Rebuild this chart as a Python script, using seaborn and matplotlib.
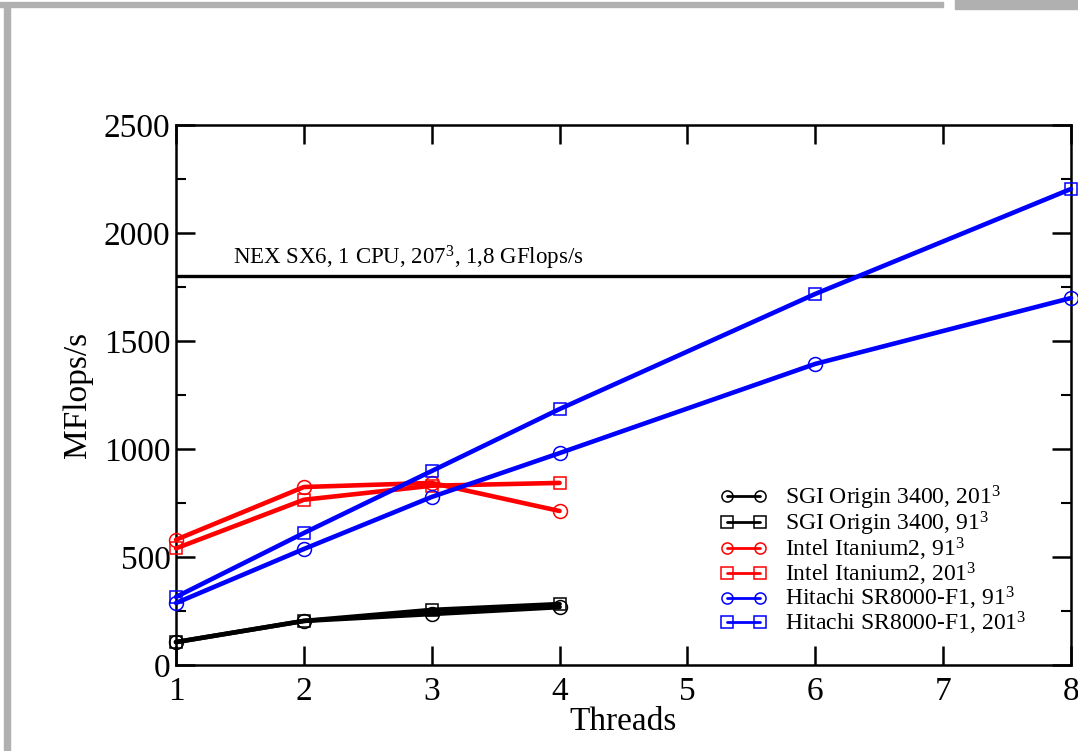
import numpy as np
import pandas as pd
import matplotlib
matplotlib.use("Agg")
import matplotlib.pyplot as plt
import seaborn as sns
from matplotlib.patches import Rectangle
from matplotlib.ticker import MultipleLocator

# ---------------- data ----------------
threads_short = [1, 2, 3, 4]
threads_long = [1, 2, 3, 4, 6, 8]

sgi_201 = [106, 204, 236, 268]
sgi_91 = [106, 204, 255, 282]
intel_91 = [580, 824, 843, 713]
intel_201 = [540, 765, 830, 843]
hitachi_91 = [287, 537, 778, 981, 1394, 1699]
hitachi_201 = [315, 611, 898, 1185, 1718, 2204]

nec_ref = 1800
nec_label = r"NEX SX6, 1 CPU, 207$^{3}$, 1,8 GFlops/s"

labels = [
    r"SGI Origin 3400, 201$^{3}$",
    r"SGI Origin 3400, 91$^{3}$",
    r"Intel Itanium2, 91$^{3}$",
    r"Intel Itanium2, 201$^{3}$",
    r"Hitachi SR8000-F1, 91$^{3}$",
    r"Hitachi SR8000-F1, 201$^{3}$",
]
series_x = [threads_short, threads_short, threads_short, threads_short, threads_long, threads_long]
series_y = [sgi_201, sgi_91, intel_91, intel_201, hitachi_91, hitachi_201]
colors = ["#000000", "#000000", "#ff0000", "#ff0000", "#0000ff", "#0000ff"]
markers = ["o", "s", "o", "s", "o", "s"]

x_ticks = [1, 2, 3, 4, 5, 6, 7, 8]
y_ticks = [0, 500, 1000, 1500, 2000, 2500]

# ---------------- style ----------------
sns.set_style("ticks")
plt.rcParams["font.family"] = ["Liberation Serif", "DejaVu Serif"]
plt.rcParams["mathtext.fontset"] = "custom"
plt.rcParams["mathtext.rm"] = "Liberation Serif"
plt.rcParams["mathtext.it"] = "Liberation Serif:italic"
plt.rcParams["mathtext.bf"] = "Liberation Serif:bold"
for k in ["text.color", "axes.labelcolor", "xtick.color", "ytick.color", "axes.edgecolor"]:
    plt.rcParams[k] = "black"

fig = plt.figure(figsize=(10.78, 7.51), dpi=100)
ax = fig.add_axes([176 / 1078, 86 / 751, (1071 - 176) / 1078, (665 - 125) / 751])

for xs, ys, c, m, lab in zip(series_x, series_y, colors, markers, labels):
    df = pd.DataFrame({"Threads": xs, "MFlops": ys})
    sns.lineplot(data=df, x="Threads", y="MFlops", ax=ax, color=c, marker=m,
                 markersize=10 if m == "o" else 9, markerfacecolor="none",
                 markeredgecolor=c, markeredgewidth=1.1, linewidth=3.3,
                 label=lab, zorder=3, clip_on=False)

ax.axhline(nec_ref, color="black", linewidth=2.4, zorder=2)
ax.text(1.446, nec_ref + 55, nec_label, fontsize=16.5, ha="left", va="baseline")

ax.set_xlim(1, 8)
ax.set_ylim(0, 2500)
ax.set_xticks(x_ticks)
ax.set_yticks(y_ticks)
ax.yaxis.set_minor_locator(MultipleLocator(250))
ax.tick_params(axis="both", which="major", direction="in", length=14, width=1.8,
               labelsize=24, top=True, right=True, pad=4)
ax.tick_params(axis="y", which="minor", direction="in", length=7, width=1.5,
               left=True, right=True)
ax.tick_params(axis="x", which="major", pad=8)
for s in ax.spines.values():
    s.set_linewidth(1.8)
ax.set_xlabel("Threads", fontsize=24, labelpad=0)
ax.set_ylabel("MFlops/s", fontsize=24, labelpad=8)

leg = ax.legend(loc="upper left", bbox_to_anchor=(708 / 1078, 1 - 472 / 751),
                bbox_transform=fig.transFigure, frameon=False, fontsize=17,
                numpoints=2, handlelength=2.0, handletextpad=0.75,
                labelspacing=-0.1, borderpad=0)
for ln in leg.get_lines():
    ln.set_linewidth(2.0)
    ln.set_markersize(8)

# slide frame decorations
fig.patches.append(Rectangle((0, 1 - 7 / 751), 943 / 1078, 5 / 751,
                             transform=fig.transFigure, color="#b0b0b0", zorder=0))
fig.patches.append(Rectangle((955 / 1078, 1 - 9 / 751), 123 / 1078, 9 / 751,
                             transform=fig.transFigure, color="#b0b0b0", zorder=0))
fig.patches.append(Rectangle((4 / 1078, 0), 6 / 1078, 1 - 4 / 751,
                             transform=fig.transFigure, color="#b0b0b0", zorder=0))

fig.savefig("out.png", dpi=100)
